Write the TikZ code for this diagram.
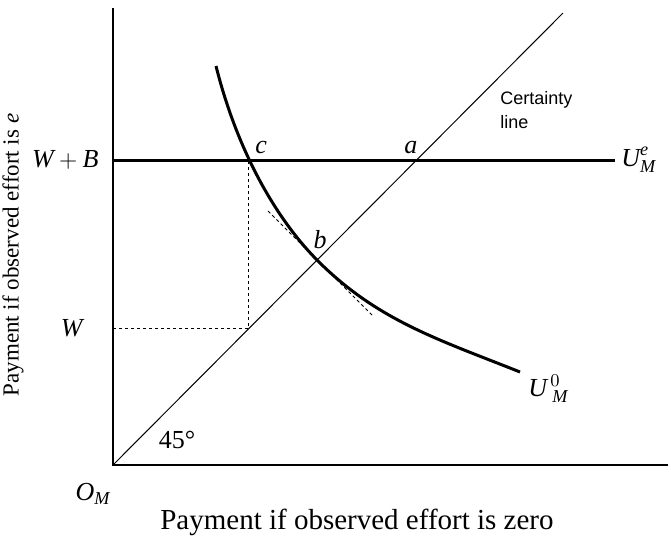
\documentclass[tikz,border=0pt]{standalone}
\usepackage{amsmath}
\usepackage{fontspec}
\setmainfont{Liberation Serif}
\setsansfont{Liberation Sans}
\usetikzlibrary{positioning}

\newcommand{\vi}[1]{\textit{#1}}

\begin{document}
\begin{tikzpicture}[x=0.5pt, y=0.5pt,
    axis/.style={line width=0.7pt},
    indiff/.style={line width=1.5pt},
    guide/.style={line width=0.5pt, dash pattern=on 1.6pt off 1.4pt},
    every node/.style={font=\fontsize{13}{15}\selectfont, inner sep=1pt}]
  \useasboundingbox (-113,-78) rectangle (558,465);
  % axes
  \coordinate (O) at (0,0);
  \coordinate (ytop) at (0,457);
  \coordinate (xend) at (555,0);
  \draw[axis] (ytop) -- (O) -- (xend);
  % certainty line
  \coordinate (cl) at (450,452);
  \draw[line width=0.5pt] (O) -- (cl);
  % points
  \coordinate (wb) at (0,305);
  \coordinate (w) at (0,137);
  \coordinate (a) at (302,305);
  \coordinate (b) at (205,204);
  \coordinate (c) at (136,305);
  \coordinate (wc) at (136,137);
  \coordinate (ueend) at (502,305);
  \coordinate (utop) at (103,399);
  \coordinate (uend) at (407,93);
  \coordinate (t1) at (155,254);
  \coordinate (t2) at (261,148);
  % payment lines
  \draw[indiff] (wb) -- (ueend);
  \draw[guide] (w) -- (wc) -- (c);
  \draw[guide] (t1) -- (t2);
  \draw[indiff] (utop) .. controls (125,311) and (165,244) .. (b)
                       .. controls (265,144) and (327,125) .. (uend);
  % labels
  \node[left=6pt of wb] (lwb) {$\vi{W} + \vi{B}$};
  \node[left=14pt of w] (lw) {$\vi{W}$};
  \node[above=2pt of a, xshift=-2pt] (la) {$\vi{a}$};
  \node[anchor=south west, xshift=2pt, yshift=2pt] (lc) at (c) {$\vi{c}$};
  \node[above=5pt of b, xshift=1pt] (lb) {$\vi{b}$};
  \node[right=2pt of ueend] (lue) {$\vi{U}^{\vi{e}}_{\vi{M}}$};
  \node[anchor=north west, xshift=3pt] (lu0) at (uend) {$\vi{U}^{\,0}_{\;\vi{M}}$};
  \node[align=left, anchor=west, font=\sffamily\fontsize{9}{12}\selectfont] (lcl) at (385,355) {Certainty\\line};
  \node (l45) at (64,25) {45\textdegree};
  \node[below left=8pt and 0pt of O] (lo) {$\vi{O}_{\vi{M}}$};
  \node[font=\fontsize{14.5}{16}\selectfont] (lx) at (244,-57) {Payment if observed effort is zero};
  \node[rotate=90, font=\fontsize{11.5}{14}\selectfont] (ly) at (-100,210) {Payment if observed effort is \vi{e}};
\end{tikzpicture}
\end{document}
